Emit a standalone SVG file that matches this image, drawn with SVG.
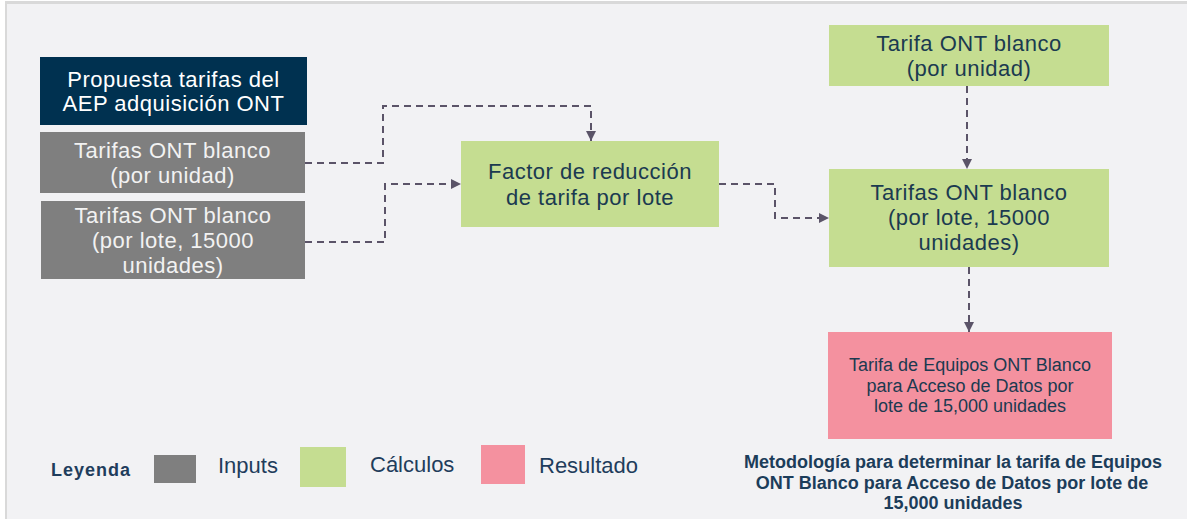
<svg xmlns="http://www.w3.org/2000/svg" width="1187" height="519" viewBox="0 0 1187 519">
  <style>
    .t { font-family: "Liberation Sans", Arial, sans-serif; text-anchor: middle; }
    .box22 { font-size: 22px; letter-spacing: 0.5px; }
    .dark { fill: #1b3a50; }
    .light { fill: #f2f2f2; }
    .white { fill: #ffffff; }
    .conn { fill: none; stroke: #5b5468; stroke-width: 2; stroke-dasharray: 7 5; }
    .leg { font-family: "Liberation Sans", Arial, sans-serif; font-size: 22px; fill: #1f3d5c; }
    .cap { font-family: "Liberation Sans", Arial, sans-serif; font-size: 18px; font-weight: bold; fill: #1c3d5a; text-anchor: middle; }
  </style>
  <defs>
    <marker id="arr" viewBox="0 0 10 10" refX="10" refY="5" markerWidth="5" markerHeight="5" orient="auto" markerUnits="strokeWidth">
      <path d="M0,0 L10,5 L0,10 Z" fill="#5b5468"/>
    </marker>
  </defs>

  <!-- background panel -->
  <rect x="0" y="0" width="1187" height="519" fill="#ffffff"/>
  <rect x="5" y="1" width="1182" height="518" fill="#d9d9d9"/>
  <rect x="7" y="4" width="1180" height="515" fill="#f2f2f4"/>

  <g id="node-propuesta">
    <rect x="40" y="57" width="267" height="68" fill="#003150"/>
    <text class="t box22 white" x="173.5" y="87">Propuesta tarifas del</text>
    <text class="t box22 white" x="173.5" y="111">AEP adquisición ONT</text>
  </g>

  <g id="node-input-unidad">
    <rect x="40" y="132" width="265" height="61" fill="#7f7f7f"/>
    <text class="t box22 light" x="172.5" y="158">Tarifas ONT blanco</text>
    <text class="t box22 light" x="172.5" y="183">(por unidad)</text>
  </g>

  <g id="node-input-lote">
    <rect x="41" y="201" width="264" height="78" fill="#7f7f7f"/>
    <text class="t box22 light" x="173" y="223">Tarifas ONT blanco</text>
    <text class="t box22 light" x="173" y="248">(por lote, 15000</text>
    <text class="t box22 light" x="173" y="273">unidades)</text>
  </g>

  <g id="node-factor">
    <rect x="461" y="141" width="258" height="86" fill="#c5dd91"/>
    <text class="t box22 dark" x="590" y="179">Factor de reducción</text>
    <text class="t box22 dark" x="590" y="205">de tarifa por lote</text>
  </g>

  <g id="node-tarifa-unidad">
    <rect x="829" y="25" width="280" height="61" fill="#c5dd91"/>
    <text class="t box22 dark" x="969" y="51">Tarifa ONT blanco</text>
    <text class="t box22 dark" x="969" y="76">(por unidad)</text>
  </g>

  <g id="node-tarifas-lote">
    <rect x="829" y="169" width="280" height="98" fill="#c5dd91"/>
    <text class="t box22 dark" x="969" y="200">Tarifas ONT blanco</text>
    <text class="t box22 dark" x="969" y="225">(por lote, 15000</text>
    <text class="t box22 dark" x="969" y="250">unidades)</text>
  </g>

  <g id="node-resultado">
    <rect x="828" y="332" width="284" height="107" fill="#f4919f"/>
    <text class="t dark" font-size="18" x="970" y="371">Tarifa de Equipos ONT Blanco</text>
    <text class="t dark" font-size="18" x="970" y="392">para Acceso de Datos por</text>
    <text class="t dark" font-size="18" x="970" y="412">lote de 15,000 unidades</text>
  </g>

  <g id="connectors">
    <polyline class="conn" points="305,163 383,163 383,106 591,106 591,141" marker-end="url(#arr)"/>
    <polyline class="conn" points="305,242 385,242 385,184 461,184" marker-end="url(#arr)"/>
    <polyline class="conn" points="719,184 775,184 775,218 829,218" marker-end="url(#arr)"/>
    <polyline class="conn" points="967,86 967,169" marker-end="url(#arr)"/>
    <polyline class="conn" points="969,267 969,332" marker-end="url(#arr)"/>
  </g>

  <g id="legend">
    <text x="51" y="476" font-family="Liberation Sans, Arial, sans-serif" font-size="18" font-weight="bold" letter-spacing="1" fill="#1f3d5c">Leyenda</text>
    <rect x="154" y="455" width="42" height="28" fill="#7f7f7f"/>
    <text class="leg" x="218" y="473">Inputs</text>
    <rect x="300" y="447" width="46" height="40" fill="#c5dd91"/>
    <text class="leg" x="370" y="472">Cálculos</text>
    <rect x="481" y="445" width="44" height="39" fill="#f4919f"/>
    <text class="leg" x="539" y="473">Resultado</text>
  </g>

  <g id="caption">
    <text class="cap" x="953" y="468">Metodología para determinar la tarifa de Equipos</text>
    <text class="cap" x="952" y="489">ONT Blanco para Acceso de Datos por lote de</text>
    <text class="cap" x="953" y="509">15,000 unidades</text>
  </g>
</svg>
